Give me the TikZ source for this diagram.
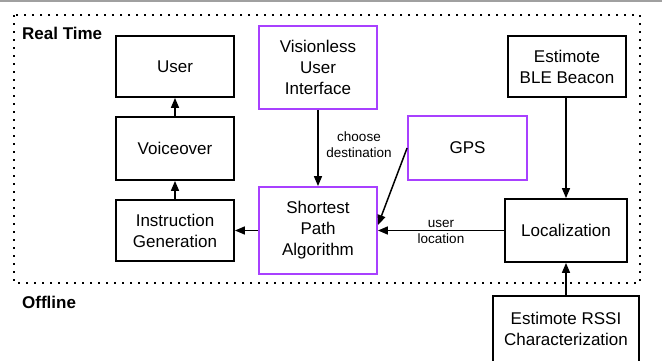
\documentclass[tikz,border=0pt]{standalone}
\usepackage{fontspec}
\setmainfont{Liberation Sans}
\usetikzlibrary{arrows.meta,calc}
\definecolor{violetbox}{RGB}{168,64,255}
\definecolor{topgray}{RGB}{160,160,160}
\tikzset{
  blockbox/.style={draw=black, line width=1.8pt, rectangle, align=center,
    font=\fontsize{17}{21}\selectfont, inner sep=0pt},
  purplebox/.style={blockbox, draw=violetbox},
  flow/.style={line width=1.5pt, -{Triangle[length=10pt,width=8pt]}},
  edgelabel/.style={align=center, font=\fontsize{13.5}{16}\selectfont, inner sep=0pt},
  regionlabel/.style={anchor=west, font=\bfseries\fontsize{17}{20}\selectfont, inner sep=0pt},
  region/.style={line width=2pt, dash pattern=on 2pt off 6pt, line cap=butt}
}
\begin{document}
\begin{tikzpicture}[x=1pt, y=-1pt]
\clip (0,0) rectangle (662,360);
\fill[white] (0,0) rectangle (662,360);
\draw[topgray, line width=1.6pt] (0,0.8) -- (662,0.8);
% region
\draw[region] (14,15) rectangle (640,283);
\node[regionlabel] (rt) at (22,33) {Real Time};
\node[regionlabel] (off) at (22,302) {Offline};
% boxes
\node[blockbox, minimum width=118pt, minimum height=61pt] (user) at (175,66.5) {User};
\node[blockbox, minimum width=118pt, minimum height=63pt] (voice) at (175,148.5) {Voiceover};
\node[blockbox, minimum width=118pt, minimum height=61pt] (instr) at (175,230.5) {Instruction\\Generation};
\node[purplebox, minimum width=118pt, minimum height=83pt] (vui) at (318,67.5) {Visionless\\User\\Interface};
\node[purplebox, minimum width=118pt, minimum height=87pt] (spa) at (318,230.5) {Shortest\\Path\\Algorithm};
\node[purplebox, minimum width=119pt, minimum height=64pt] (gps) at (467.5,148) {GPS};
\node[blockbox, minimum width=118pt, minimum height=61pt] (ble) at (567,66.5) {Estimote\\BLE Beacon};
\node[blockbox, minimum width=122pt, minimum height=63pt] (loc) at (566,230.5) {Localization};
\node[blockbox, minimum width=146pt, minimum height=66pt] (rssi) at (566,329) {Estimote RSSI\\Characterization};
% connectors
\coordinate (gpsin) at (378,225);
\draw[flow] (voice) -- (user);
\draw[flow] (instr) -- (voice);
\draw[flow] (vui) -- (spa);
\draw[flow] (spa) -- (instr);
\draw[flow] (loc) -- (spa);
\draw[flow] (ble.south -| loc.north) -- (loc.north);
\draw[flow] (rssi) -- (loc);
\draw[flow] (gps.west) -- (gpsin);
% labels
\node[edgelabel] (lchoose) at (359,145) {choose\\destination};
\node[edgelabel] (luser) at (441,231.5) {user\\location};
\end{tikzpicture}
\end{document}
